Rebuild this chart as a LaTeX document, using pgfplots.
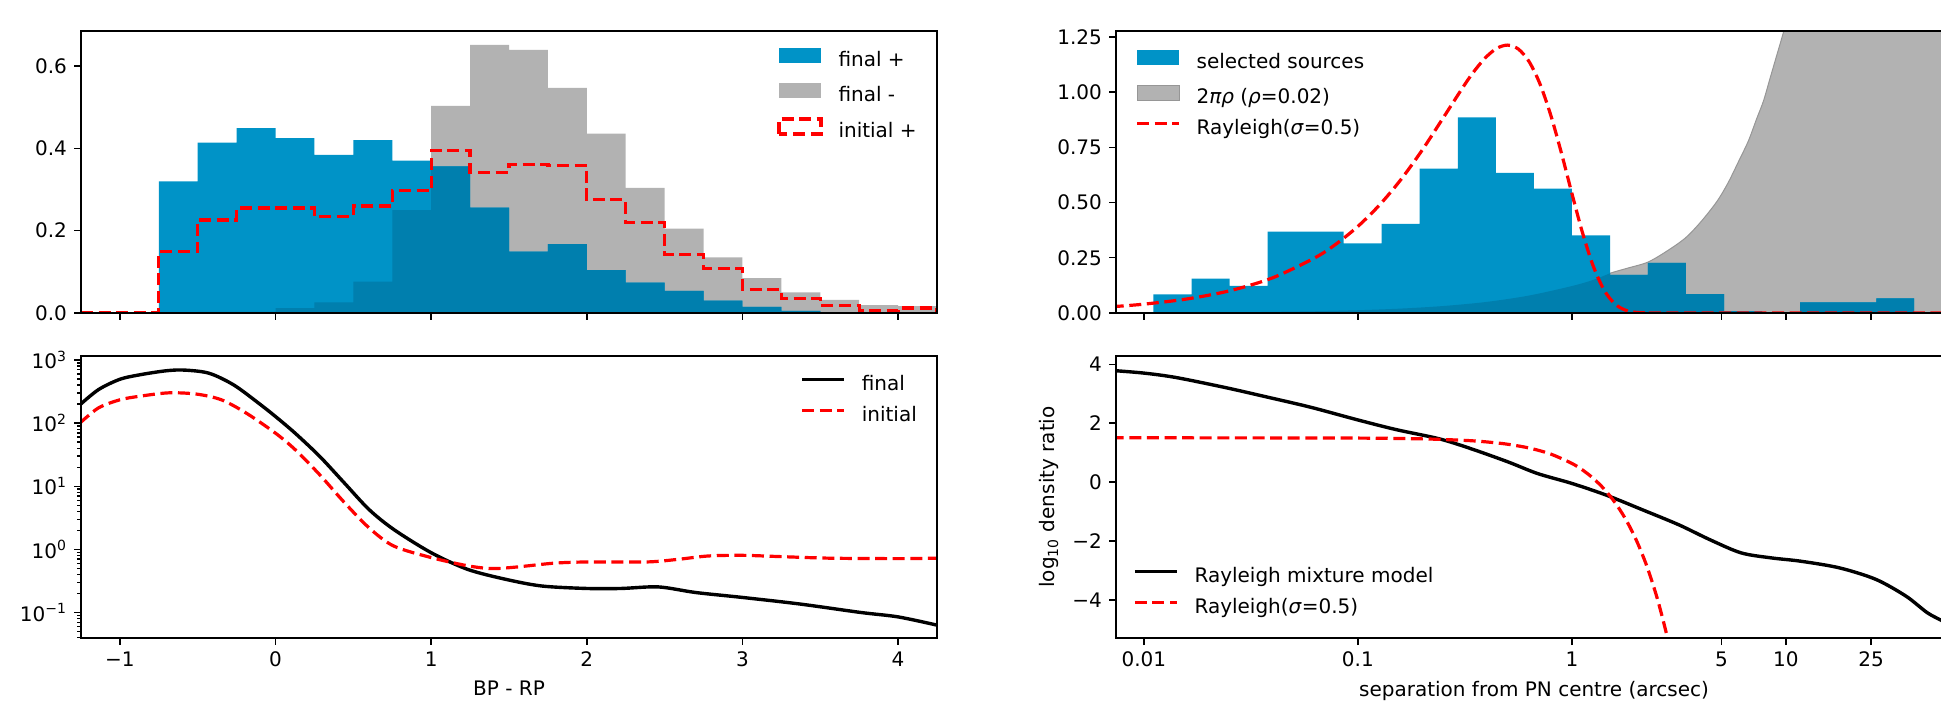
\documentclass[border=0pt]{standalone}
\usepackage{fontspec}
\setmainfont{DejaVu Sans}
\usepackage{pgfplots}
\pgfplotsset{compat=1.18}
\definecolor{cblue}{RGB}{0,147,199}
\definecolor{cdark}{RGB}{0,127,174}
\definecolor{cgray}{RGB}{178,178,178}
\definecolor{cedge}{RGB}{150,150,150}
\definecolor{cred}{RGB}{255,0,0}
\pgfplotsset{
  myax/.style={
    scale only axis, anchor=south west, axis on top,
    axis line style={line width=0.75pt},
    every tick/.style={line width=0.7pt, black},
    tick align=outside, major tick length=3.5pt, minor tick length=2pt,
    xtick pos=bottom, ytick pos=left,
    tick label style={font=\fontsize{10}{12}\selectfont},
    label style={font=\fontsize{10}{12}\selectfont},
    legend cell align=left,
    legend style={draw=none, fill=none, inner sep=0pt, row sep=5.5pt,
      font=\fontsize{10}{12}\selectfont,
      nodes={inner sep=0pt, text height=7.5pt, text depth=2.5pt},
      /tikz/every odd column/.style={column sep=8pt}},
  },
  fillleg/.style 2 args={legend image code/.code={\fill[#1, draw=none] (0pt,-0.75pt) rectangle (21pt,6.75pt);}},
  boxleg/.style={legend image code/.code={\draw[##1] (0pt,-0.75pt) rectangle (21pt,6.75pt);}},
  lineleg/.style={legend image code/.code={\draw[##1] (0pt,3pt) -- (21pt,3pt);}},
  reddash/.style={cred, line width=1.6pt, dash pattern=on 6pt off 2.8pt},
  blk/.style={black, line width=1.7pt, line join=round},
}
\begin{document}
\begin{tikzpicture}
\path[use as bounding box] (0,0) rectangle (970.5pt,351pt);
% ---------------- top left
\begin{axis}[myax, at={(40.5pt,194.5pt)}, width=428pt, height=141pt,
  xmin=-1.25, xmax=4.25, ymin=0, ymax=0.685,
  xtick={-1,0,1,2,3,4}, xticklabels={},
  ytick={0,0.2,0.4,0.6}, yticklabels={0.0,0.2,0.4,0.6},
  legend style={at={(0.813,0.94)}, anchor=north west}]
\addplot[const plot, fill=cgray, draw=none, forget plot] coordinates {(-0.75,0.001) (-0.5,0.003) (-0.25,0.003) (0,0.012) (0.25,0.026) (0.5,0.076) (0.75,0.250) (1.0,0.503) (1.25,0.651) (1.5,0.639) (1.75,0.547) (2.0,0.436) (2.25,0.304) (2.5,0.205) (2.75,0.135) (3.0,0.085) (3.25,0.050) (3.5,0.032) (3.75,0.019) (4.0,0.017) (4.25,0.017)} \closedcycle;
\addplot[const plot, fill=cblue, draw=none, forget plot] coordinates {(-0.75,0.320) (-0.5,0.414) (-0.25,0.449) (0,0.425) (0.25,0.384) (0.5,0.420) (0.75,0.370) (1.0,0.356) (1.25,0.256) (1.5,0.149) (1.75,0.167) (2.0,0.104) (2.25,0.074) (2.5,0.054) (2.75,0.030) (3.0,0.015) (3.25,0.005) (3.5,0.002) (3.75,0.0) (4.0,0.0) (4.25,0.0)} \closedcycle;
\addplot[const plot, fill=cdark, draw=none, forget plot] coordinates {(-0.75,0.001) (-0.5,0.003) (-0.25,0.003) (0,0.012) (0.25,0.026) (0.5,0.076) (0.75,0.250) (1.0,0.356) (1.25,0.256) (1.5,0.149) (1.75,0.167) (2.0,0.104) (2.25,0.074) (2.5,0.054) (2.75,0.030) (3.0,0.015) (3.25,0.005) (3.5,0.002) (3.75,0) (4.0,0) (4.25,0)} \closedcycle;
\addplot[const plot, reddash, forget plot] coordinates {(-1.25,0) (-0.75,0.149) (-0.5,0.226) (-0.25,0.255) (0,0.255) (0.25,0.234) (0.5,0.260) (0.75,0.297) (1.0,0.394) (1.25,0.341) (1.5,0.361) (1.75,0.359) (2.0,0.275) (2.25,0.220) (2.5,0.143) (2.75,0.108) (3.0,0.057) (3.25,0.036) (3.5,0.018) (3.75,0.006) (4.0,0.012) (4.25,0.012) (4.25,0)};
\addlegendimage{fillleg={cblue}{}}
\addlegendentry{final +}
\addlegendimage{fillleg={cgray}{}}
\addlegendentry{final -}
\addlegendimage{boxleg, reddash, fill=none}
\addlegendentry{initial +}
\end{axis}
% ---------------- bottom left
\begin{axis}[myax, at={(40.5pt,32pt)}, width=428pt, height=141pt,
  xmin=-1.25, xmax=4.25, ymode=log, ymin=0.0394, ymax=1157,
  xtick={-1,0,1,2,3,4}, xticklabels={−1,0,1,2,3,4},
  ytick={0.1,1,10,100,1000},
  yticklabels={10\textsuperscript{−1},10\textsuperscript{0},10\textsuperscript{1},10\textsuperscript{2},10\textsuperscript{3}},
  minor ytick={0.04,0.05,0.06,0.07,0.08,0.09,0.2,0.3,0.4,0.5,0.6,0.7,0.8,0.9,2,3,4,5,6,7,8,9,20,30,40,50,60,70,80,90,200,300,400,500,600,700,800,900},
  xlabel={BP - RP},
  legend style={at={(0.84,0.933)}, anchor=north west}]
\addplot[blk, smooth, lineleg] coordinates {(-1.257,195) (-1.138,339) (-1.0,495) (-0.862,589) (-0.70,676) (-0.585,692) (-0.427,617) (-0.269,403) (-0.111,209) (0,127) (0.126,69.2) (0.285,29.5) (0.443,11.2) (0.601,4.27) (0.759,2.07) (1.0,0.885) (1.233,0.483) (1.470,0.339) (1.708,0.263) (2.0,0.240) (2.22,0.240) (2.46,0.254) (2.70,0.207) (3.0,0.173) (3.37,0.136) (3.76,0.100) (4.0,0.0851) (4.25,0.063)};
\addlegendentry{final}
\addplot[reddash, smooth, lineleg] coordinates {(-1.257,100) (-1.138,174) (-1.0,234) (-0.862,269) (-0.684,302) (-0.506,288) (-0.348,234) (-0.190,145) (0,69.2) (0.126,38.0) (0.285,15.1) (0.443,5.50) (0.601,2.19) (0.759,1.13) (1.0,0.741) (1.233,0.550) (1.391,0.496) (1.549,0.525) (1.786,0.603) (2.0,0.631) (2.383,0.631) (2.581,0.692) (2.779,0.785) (3.0,0.804) (3.253,0.766) (3.569,0.724) (4.0,0.713) (4.25,0.724)};
\addlegendentry{initial}
\end{axis}
% ---------------- top right
\begin{axis}[myax, at={(558pt,194.5pt)}, width=418pt, height=141pt,
  xmin=-2.13, xmax=1.776, ymin=0, ymax=1.277,
  xtick={-2,-1,0,0.699,1,1.398}, xticklabels={},
  ytick={0,0.25,0.5,0.75,1,1.25}, yticklabels={0.00,0.25,0.50,0.75,1.00,1.25},
  legend style={at={(0.0227,0.933)}, anchor=north west}]
\addplot[fill=cgray, draw=cedge, line width=0.5pt, smooth, forget plot] coordinates {(-2.15,0.0009) (-1.8,0.002) (-1.5,0.004) (-1.2,0.0079) (-1.0,0.0126) (-0.8,0.0199) (-0.6,0.0316) (-0.4,0.050) (-0.2,0.079) (0,0.122) (0.1,0.150) (0.178,0.180) (0.26,0.203) (0.354,0.230) (0.44,0.278) (0.528,0.338) (0.60,0.41) (0.676,0.503) (0.73,0.59) (0.785,0.699) (0.825,0.78) (0.863,0.879) (0.895,0.96) (0.925,1.06) (0.955,1.16) (0.988,1.27) (1.02,1.39) (1.1,1.7) (1.2,2.1) (1.5,3.8) (1.8,7.0)} \closedcycle;
\addplot[const plot, fill=cblue, draw=none, forget plot] coordinates {(-1.955,0.084) (-1.777,0.156) (-1.599,0.123) (-1.422,0.368) (-1.244,0.368) (-1.066,0.315) (-0.889,0.404) (-0.711,0.654) (-0.533,0.886) (-0.355,0.634) (-0.178,0.563) (0,0.352) (0.178,0.173) (0.355,0.227) (0.533,0.085) (0.711,0.008) (0.889,0) (1.066,0.048) (1.244,0.048) (1.422,0.066) (1.599,0.066)} \closedcycle;
\addplot[fill=cdark, draw=none, smooth, forget plot] coordinates {(-1.955,0.0014) (-1.8,0.002) (-1.5,0.004) (-1.2,0.0079) (-1.0,0.0126) (-0.8,0.0199) (-0.6,0.0316) (-0.4,0.050) (-0.2,0.079) (0,0.122) (0.1,0.150) (0.178,0.180)} \closedcycle;
\addplot[const plot, fill=cdark, draw=none, forget plot] coordinates {(0.178,0.173) (0.355,0.227) (0.533,0.085) (0.711,0.008) (0.889,0) (1.066,0.048) (1.244,0.048) (1.422,0.066) (1.599,0.066)} \closedcycle;
\addplot[reddash, smooth, forget plot] coordinates {(-2.15,0.0283) (-2.0,0.0400) (-1.8,0.0634) (-1.6,0.1003) (-1.4,0.1587) (-1.2,0.2504) (-1.1,0.3137) (-1.0,0.3921) (-0.9,0.4879) (-0.8,0.6029) (-0.7,0.7370) (-0.6,0.8857) (-0.5,1.0356) (-0.45,1.1033) (-0.4,1.1599) (-0.35,1.1990) (-0.3,1.2131) (-0.25,1.1951) (-0.2,1.1383) (-0.15,1.0393) (-0.1,0.8995) (-0.05,0.7281) (0,0.5413) (0.05,0.3619) (0.1,0.2117) (0.15,0.1045) (0.2,0.0417) (0.25,0.0128) (0.3,0.0028) (0.35,0.0004) (0.4,0) (1.0,0) (1.8,0)};
\addlegendimage{fillleg={cblue}{}}
\addlegendentry{selected sources}
\addlegendimage{boxleg, fill=cgray, draw=cedge, line width=0.5pt}
\addlegendentry{2\textit{πρ} (\textit{ρ}=0.02)}
\addlegendimage{lineleg, reddash}
\addlegendentry{Rayleigh(\textit{σ}=0.5)}
\end{axis}
% ---------------- bottom right
\begin{axis}[myax, at={(558pt,32pt)}, width=418pt, height=141pt,
  xmin=-2.13, xmax=1.776, ymin=-5.29, ymax=4.28,
  xtick={-2,-1,0,0.699,1,1.398}, xticklabels={0.01,0.1,1,5,10,25},
  ytick={-4,-2,0,2,4}, yticklabels={−4,−2,0,2,4},
  xlabel={separation from PN centre (arcsec)},
  ylabel={log\textsubscript{10} density ratio},
  legend style={at={(0.02,0.067)}, anchor=south west}]
\addplot[blk, smooth, lineleg] coordinates {(-2.15,3.79) (-2.0,3.70) (-1.85,3.55) (-1.62,3.21) (-1.42,2.88) (-1.22,2.54) (-1.0,2.11) (-0.82,1.78) (-0.62,1.47) (-0.47,1.13) (-0.30,0.69) (-0.16,0.29) (0,-0.045) (0.16,-0.44) (0.33,-0.94) (0.50,-1.45) (0.645,-1.955) (0.79,-2.40) (0.93,-2.57) (1.07,-2.685) (1.25,-2.91) (1.42,-3.30) (1.56,-3.865) (1.66,-4.43) (1.728,-4.7) (1.8,-5.0)};
\addlegendentry{Rayleigh mixture model}
\addplot[reddash, smooth, lineleg] coordinates {(-2.15,1.503) (-1.5,1.501) (-1.0,1.494) (-0.7,1.468) (-0.5,1.416) (-0.4,1.365) (-0.3,1.285) (-0.2,1.157) (-0.1,0.955) (0,0.634) (0.05,0.410) (0.1,0.126) (0.15,-0.230) (0.2,-0.679) (0.25,-1.244) (0.3,-1.955) (0.35,-2.85) (0.4,-3.978) (0.45,-5.40) (0.5,-7.18)};
\addlegendentry{Rayleigh(\textit{σ}=0.5)}
\end{axis}
\end{tikzpicture}
\end{document}
